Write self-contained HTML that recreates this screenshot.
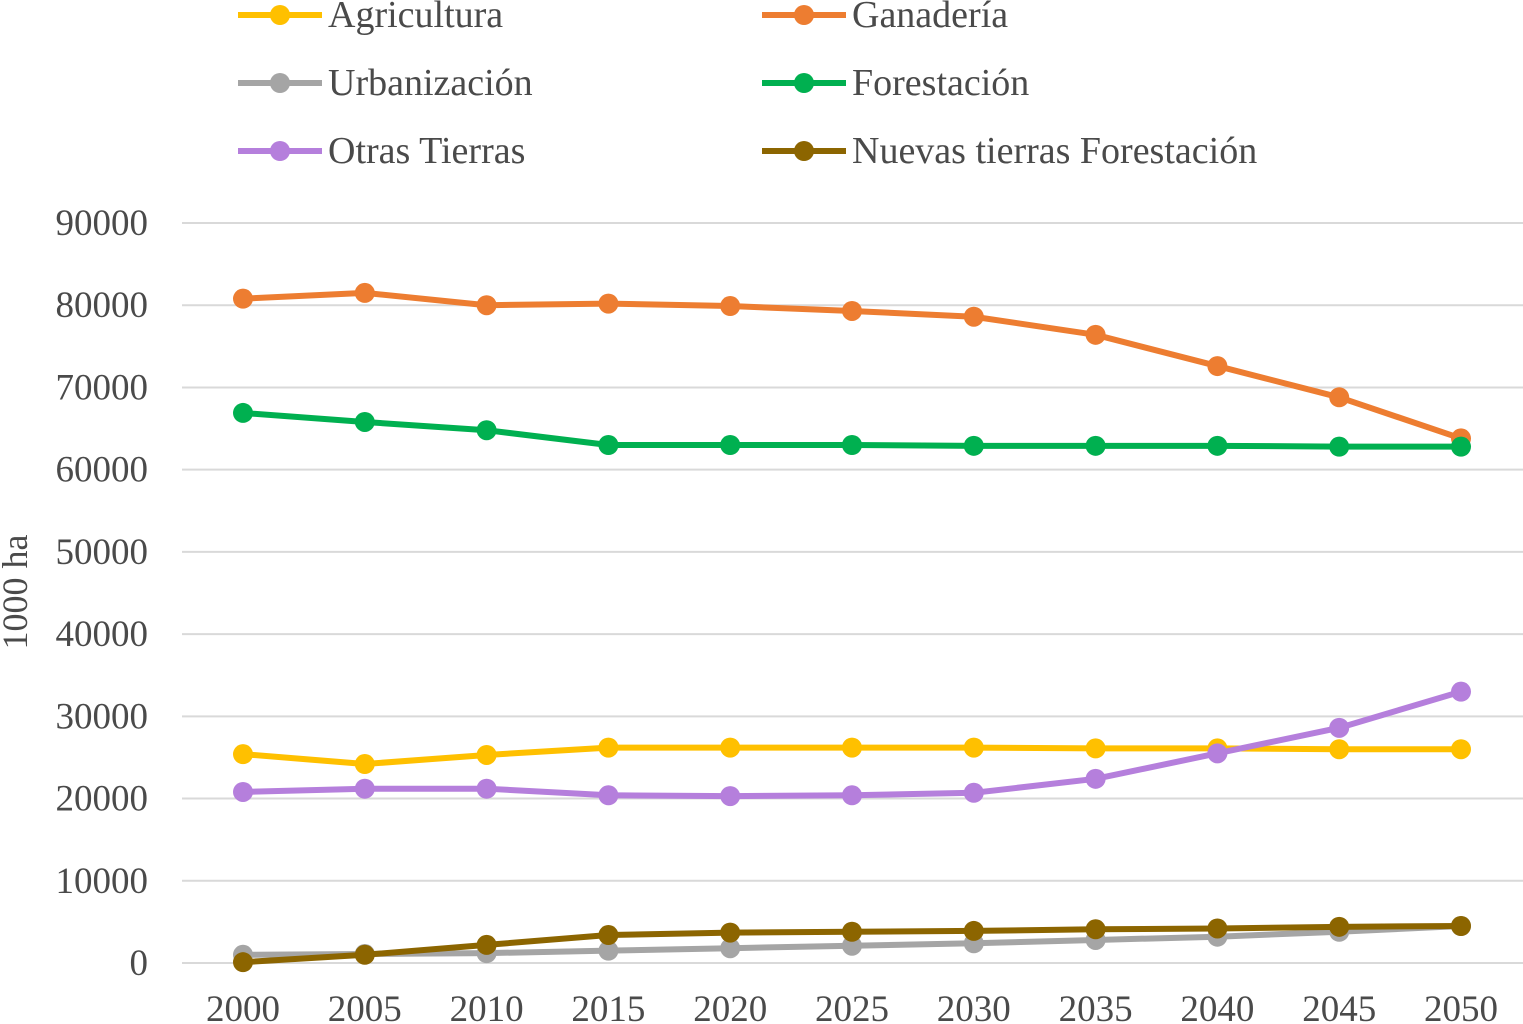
<!DOCTYPE html>
<html><head><meta charset="utf-8"><style>
body{margin:0;background:#fff}
svg{display:block;font-family:"Liberation Serif",serif}
</style></head><body>
<svg id="c" width="1523" height="1024"></svg>
<script>
const years=[2000,2005,2010,2015,2020,2025,2030,2035,2040,2045,2050];
const yTicks=[0,10000,20000,30000,40000,50000,60000,70000,80000,90000];
const agricultura=[25400,24200,25300,26200,26200,26200,26200,26100,26100,26000,26000];
const ganaderia=[80800,81500,80000,80200,79900,79300,78600,76400,72600,68800,63800];
const urbanizacion=[1000,1100,1200,1500,1800,2100,2400,2800,3200,3800,4500];
const forestacion=[66900,65800,64800,63000,63000,63000,62900,62900,62900,62800,62800];
const otras=[20800,21200,21200,20400,20300,20400,20700,22400,25500,28600,33000];
const nuevas=[100,1000,2200,3400,3700,3800,3900,4100,4200,4400,4500];
const series=[
 {name:"Agricultura",d:agricultura,c:"#ffc000",id:"agricultura"},
 {name:"Ganadería",d:ganaderia,c:"#ed7d31",id:"ganaderia"},
 {name:"Urbanización",d:urbanizacion,c:"#a5a5a5",id:"urbanizacion"},
 {name:"Forestación",d:forestacion,c:"#00b050",id:"forestacion"},
 {name:"Otras Tierras",d:otras,c:"#b57fdc",id:"otras-tierras"},
 {name:"Nuevas tierras Forestación",d:nuevas,c:"#8c6500",id:"nuevas-tierras"}];
const drawOrder=[1,3,0,4,2,5];
const X=v=>243+(v-2000)*(1461-243)/50;
const Y=v=>963-v*(963-223)/90000;
const svg=document.getElementById('c');
const NS="http://www.w3.org/2000/svg";
function mk(t,a,p){const e=document.createElementNS(NS,t);for(const k in a)e.setAttribute(k,a[k]);(p||svg).appendChild(e);return e;}
yTicks.forEach(t=>{
 const l=mk('line',{x1:182,x2:1523,y1:Y(t),y2:Y(t),stroke:'#d9d9d9','stroke-width':2});
 
 
 const tx=mk('text',{x:148,y:Y(t)+12,'text-anchor':'end','font-size':37,fill:'#4a4a4a'});
 tx.textContent=t;
 
 
});
years.forEach(y=>{
 const tx=mk('text',{x:X(y),y:1021,'text-anchor':'middle','font-size':37,fill:'#4a4a4a'});
 tx.textContent=y;
 
 
});
const yt=mk('text',{transform:'translate(27,592) rotate(-90)','text-anchor':'middle','font-size':36,fill:'#4a4a4a'});
yt.textContent='1000 ha';


drawOrder.forEach(i=>{
 const s=series[i];
 const g=mk('g',{});
 
 
 mk('polyline',{points:s.d.map((v,j)=>X(years[j])+','+Y(v)).join(' '),fill:'none',stroke:s.c,'stroke-width':6,'stroke-linejoin':'round'},g);
 s.d.forEach((v,j)=>{
  const c=mk('circle',{cx:X(years[j]),cy:Y(v),r:10,fill:s.c},g);
  
  
 });
});
series.forEach((s,i)=>{
 const col=i%2,row=Math.floor(i/2);
 const x0=col?762:238,y0=15+row*68;
 const g=mk('g',{});
 
 
 mk('line',{x1:x0,x2:x0+84,y1:y0,y2:y0,stroke:s.c,'stroke-width':6},g);
 mk('circle',{cx:x0+42,cy:y0,r:10,fill:s.c},g);
 const t=mk('text',{x:x0+90,y:y0+12,'font-size':38,fill:'#4a4a4a'},g);
 t.textContent=s.name;
});
</script>
</body></html>
